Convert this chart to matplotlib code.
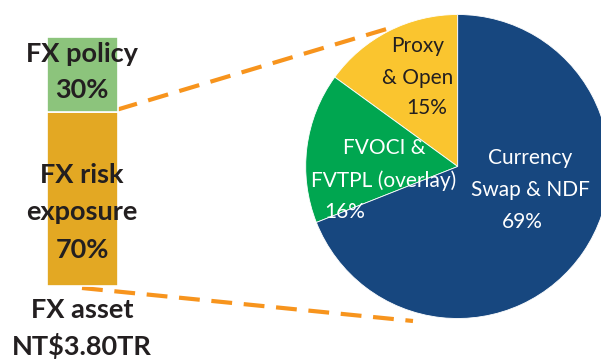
import matplotlib
matplotlib.use("Agg")
import matplotlib.pyplot as plt

# === Data ===
bar_labels = ["FX risk\nexposure\n70%", "FX policy\n30%"]
bar_values = [70, 30]
bar_colors = ["#E3A823", "#8CC47C"]
asset_label = "FX asset\nNT$3.80TR"

pie_labels = ["Proxy\n& Open\n15%", "FVOCI &\nFVTPL (overlay)\n16%", "Currency\nSwap & NDF\n69%"]
pie_values = [15, 16, 69]
pie_colors = ["#FAC52F", "#00A650", "#17477F"]

W, H = 601, 361
plt.rcParams['font.family'] = ['Lato', 'DejaVu Sans']

fig = plt.figure(figsize=(W / 100, H / 100), dpi=100)
ax = fig.add_axes([0, 0, 1, 1])

def iy(y):
    # image row -> data y
    return H - y

# === Stacked bar ===
bar_x, bar_w = 82, 71
bar_bottom, bar_total = iy(286), 249
bottom = bar_bottom
for val, col in zip(bar_values, bar_colors):
    h = bar_total * val / sum(bar_values)
    ax.bar(bar_x, h, width=bar_w, bottom=bottom, color=col,
           edgecolor='white', linewidth=1.2, zorder=3)
    bottom += h
split_y = bar_bottom + bar_total * bar_values[0] / sum(bar_values)

bold = dict(fontweight='bold', fontsize=19.5, color='#231F20', ha='center',
            va='center', zorder=5)
ax.text(bar_x, iy(72.5), bar_labels[1], linespacing=1.6, **bold)
ax.text(bar_x, iy(212.5), bar_labels[0], linespacing=1.68, **bold)
ax.text(bar_x, iy(328.5), asset_label, linespacing=1.5, **bold)

# === Dashed connector lines ===
dash = dict(color='#F7941D', lw=3, ls=(0, (5, 2.8)), solid_capstyle='butt',
            dash_capstyle='butt', zorder=2)
ax.plot([117, 390], [split_y + 2, iy(28)], **dash)
ax.plot([82, 413], [iy(288), iy(321)], **dash)

# === Pie ===
cx, cy, r = 457.7, iy(166.5), 152
ax.pie(pie_values, colors=pie_colors, startangle=90, counterclock=True,
       center=(cx, cy), radius=r, frame=True,
       wedgeprops=dict(edgecolor='white', linewidth=0.6, zorder=4))
ax.set_xlim(0, W)
ax.set_ylim(0, H)
ax.set_aspect('equal')
ax.axis('off')

reg = dict(fontsize=15, ha='center', va='center', linespacing=1.75, zorder=6)
p1, p2, p3 = pie_labels[0].split("\n")
ax.text(418, iy(62.5), p1 + "\n" + p2, color='#231F20', **reg)
ax.text(427, iy(108), p3, color='#231F20', **reg)
l1, l2, l3 = pie_labels[1].split("\n")
ax.text(384, iy(164.5), l1 + "\n" + l2, color='white', **reg)
ax.text(344.5, iy(212), l3, color='white', **reg)
c1, c2, c3 = pie_labels[2].split("\n")
ax.text(530, iy(174), c1 + "\n" + c2, color='white', **reg)
ax.text(522, iy(221.5), c3, color='white', **reg)

fig.savefig("out.png", dpi=100)
